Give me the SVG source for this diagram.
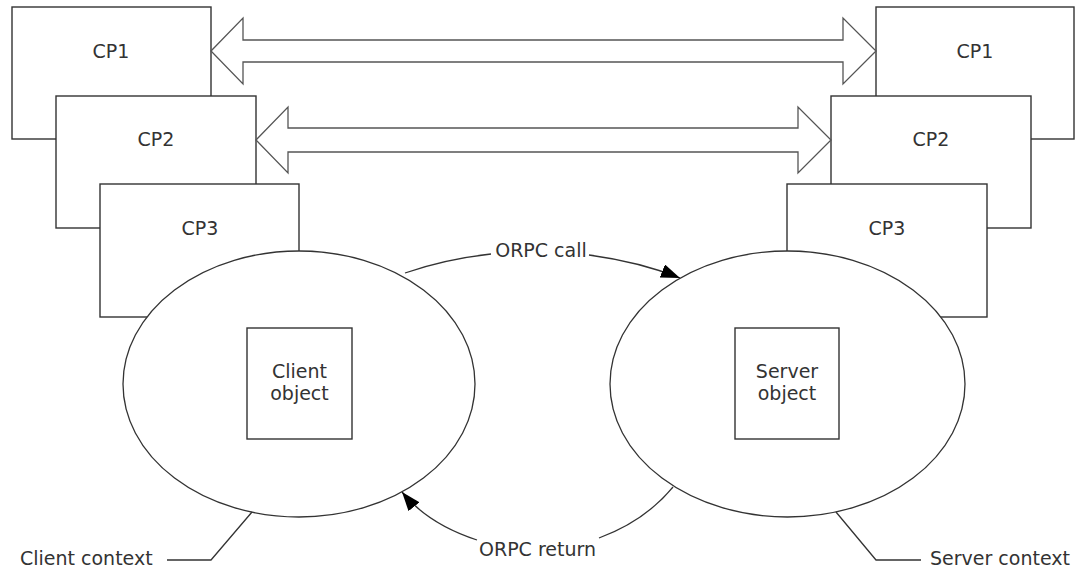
<svg xmlns="http://www.w3.org/2000/svg" width="1076" height="569" viewBox="0 0 1076 569">
<style>
.box{fill:#fff;stroke:#333;stroke-width:1.4}
.ell{fill:#fff;stroke:#333;stroke-width:1.3}
.big{fill:#fff;stroke:#555;stroke-width:1.3;stroke-linejoin:miter}
.ln{fill:none;stroke:#333;stroke-width:1.3}
text{font-family:"DejaVu Sans","Verdana",sans-serif;font-size:19px;fill:#333}
.c{text-anchor:middle}
</style>
<defs>
<marker id="ah" markerUnits="userSpaceOnUse" markerWidth="20" markerHeight="14" refX="19" refY="7" orient="auto">
<path d="M0,0 L19,7 L0,14 Z" fill="#000"/>
</marker>
</defs>
<rect width="1076" height="569" fill="#fff"/>
<g id="cp1-left"><rect class="box" x="12" y="7" width="199" height="132"/><text class="c" x="111" y="58">CP1</text></g>
<g id="cp1-right"><rect class="box" x="876" y="7" width="198" height="132"/><text class="c" x="975" y="58">CP1</text></g>
<g id="cp2-left"><rect class="box" x="56" y="96" width="200" height="132"/><text class="c" x="156" y="146">CP2</text></g>
<g id="cp2-right"><rect class="box" x="831" y="96" width="200" height="132"/><text class="c" x="931" y="146">CP2</text></g>
<g id="cp3-left"><rect class="box" x="100" y="184" width="199" height="133"/><text class="c" x="200" y="235">CP3</text></g>
<g id="cp3-right"><rect class="box" x="787" y="184" width="200" height="133"/><text class="c" x="887" y="235">CP3</text></g>
<g id="client-context"><ellipse class="ell" cx="299" cy="384" rx="176" ry="133"/><text x="20" y="565">Client context</text></g>
<g id="server-context"><ellipse class="ell" cx="787.5" cy="384" rx="177.5" ry="133"/><text x="930" y="565">Server context</text></g>
<g id="client-object"><rect class="box" x="247" y="328" width="105" height="111"/><text class="c" x="299.5" y="378">Client</text><text class="c" x="299.5" y="400">object</text></g>
<g id="server-object"><rect class="box" x="735" y="328" width="104" height="111"/><text class="c" x="787" y="378">Server</text><text class="c" x="787" y="400">object</text></g>
<g id="connectors">
<polygon class="big" points="211,51 243,18 243,40 843,40 843,18 876,51 843,84 843,62 243,62 243,84"/>
<polygon class="big" points="256,140 288,107 288,128 798,128 798,107 831,140 798,173 798,152 288,152 288,173"/>
<path class="ln" d="M405,273 Q445,259 491,254"/>
<path class="ln" d="M589,255 Q640,262 680,278" marker-end="url(#ah)"/>
<text class="c" x="541" y="257">ORPC call</text>
<path class="ln" d="M673,487 Q645,521 599,538"/>
<path class="ln" d="M477,540 Q428,524 402,492" marker-end="url(#ah)"/>
<text class="c" x="537.5" y="556">ORPC return</text>
<polyline class="ln" points="167,560 211,560 252,512"/>
<polyline class="ln" points="921,560 876,560 836,512"/>
</g>
</svg>
